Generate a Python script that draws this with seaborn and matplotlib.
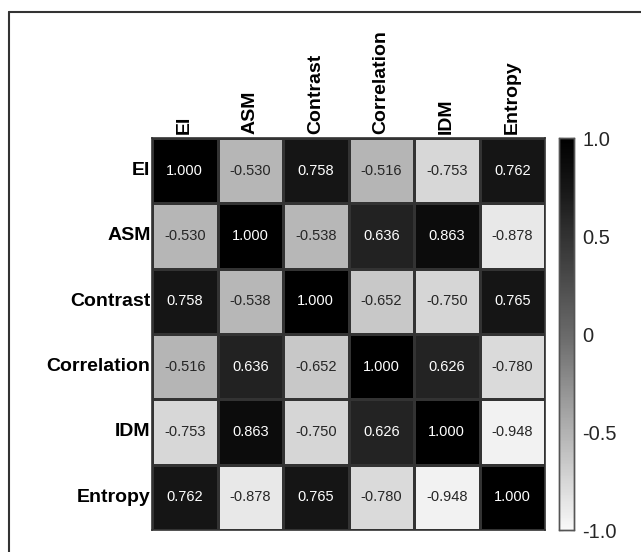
import numpy as np
import pandas as pd
import seaborn as sns
import matplotlib
matplotlib.use("Agg")
import matplotlib.pyplot as plt
from matplotlib.colors import LinearSegmentedColormap
from matplotlib.lines import Line2D

labels = ["EI", "ASM", "Contrast", "Correlation", "IDM", "Entropy"]
row_EI = [1.000, -0.530, 0.758, -0.516, -0.753, 0.762]
row_ASM = [-0.530, 1.000, -0.538, 0.636, 0.863, -0.878]
row_Contrast = [0.758, -0.538, 1.000, -0.652, -0.750, 0.765]
row_Correlation = [-0.516, 0.636, -0.652, 1.000, 0.626, -0.780]
row_IDM = [-0.753, 0.863, -0.750, 0.626, 1.000, -0.948]
row_Entropy = [0.762, -0.878, 0.765, -0.780, -0.948, 1.000]
cbar_ticks = [-1.0, -0.5, 0, 0.5, 1.0]
cbar_ticklabels = ["-1.0", "-0.5", "0", "0.5", "1.0"]

df = pd.DataFrame([row_EI, row_ASM, row_Contrast, row_Correlation, row_IDM, row_Entropy],
                  index=labels, columns=labels)

sns.set_theme(style="white")
plt.rcParams['font.family'] = ['Liberation Sans', 'DejaVu Sans']

# gray colormap with non-linear ramp (white at -1, black at 1)
nodes = [(0.0, 248), (0.125, 214), (0.25, 178), (0.5, 105), (0.75, 50), (0.875, 22), (1.0, 0)]
cmap = LinearSegmentedColormap.from_list(
    "grayramp", [(p, (g / 255, g / 255, g / 255)) for p, g in nodes])

W, H = 641, 552
fig = plt.figure(figsize=(W / 100, H / 100), dpi=100)
ax = fig.add_axes([152 / W, (H - 530) / H, 393 / W, 392 / H])
cax = fig.add_axes([559 / W, (H - 530) / H, 15 / W, 392 / H])

sns.heatmap(df, ax=ax, cbar_ax=cax, cmap=cmap, vmin=-1, vmax=1,
            annot=True, fmt=".3f", annot_kws={"fontsize": 10.5},
            linewidths=0.8, linecolor="#333333", square=False)

ax.xaxis.tick_top()
ax.set_xticklabels(labels, rotation=90, fontsize=14, fontweight="bold", color="black")
ax.set_yticklabels(labels, rotation=0, fontsize=14, fontweight="bold", color="black")
ax.tick_params(axis="x", length=0, pad=3)
ax.tick_params(axis="y", length=0, pad=1)
ax.set_xlabel("")
ax.set_ylabel("")
for s in ax.spines.values():
    s.set_visible(True)
    s.set_color("#333333")
    s.set_linewidth(1.2)

cax.set_yticks(cbar_ticks)
cax.set_yticklabels(cbar_ticklabels, fontsize=14.5)
cax.tick_params(direction="in", length=3, width=0.8, color="#222222", pad=6,
                right=True, left=True, labelleft=False, labelright=True)
for s in cax.spines.values():
    s.set_visible(True)
    s.set_color("#555555")
    s.set_linewidth(1.0)

# outer frame lines
fig.add_artist(Line2D([9 / W, 1.0], [1 - 12 / H, 1 - 12 / H], transform=fig.transFigure,
                      color="#333333", linewidth=1.5))
fig.add_artist(Line2D([9 / W, 9 / W], [0.0, 1 - 12 / H], transform=fig.transFigure,
                      color="#333333", linewidth=1.5))

fig.savefig("out.png", dpi=100, facecolor="white")
